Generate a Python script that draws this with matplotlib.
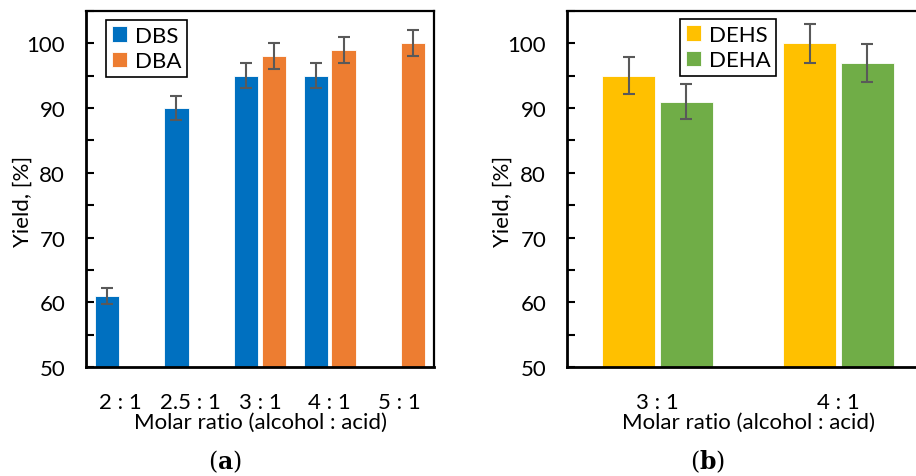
import numpy as np
import matplotlib
matplotlib.use("Agg")
import matplotlib.pyplot as plt
from matplotlib.ticker import MultipleLocator

# panel (a): dibutyl esters
ratios_a = ["2 : 1", "2.5 : 1", "3 : 1", "4 : 1", "5 : 1"]
dbs = [61, 90, 95, 95, np.nan]
dba = [np.nan, np.nan, 98, 99, 100]
dbs_err = [1.2, 1.8, 1.9, 1.9, np.nan]
dba_err = [np.nan, np.nan, 2.0, 2.0, 2.0]

# panel (b): di(2-ethylhexyl) esters
ratios_b = ["3 : 1", "4 : 1"]
dehs = [95, 100]
deha = [91, 97]
dehs_err = [2.9, 3.0]
deha_err = [2.7, 2.9]

plt.rcParams["font.family"] = ["Lato", "DejaVu Sans"]
plt.rcParams["font.size"] = 16

fig = plt.figure(figsize=(9.16, 4.77), dpi=100)
ax1 = fig.add_axes([86 / 916, 1 - 368 / 477, 348 / 916, 356 / 477])
ax2 = fig.add_axes([567 / 916, 1 - 368 / 477, 362 / 916, 356 / 477])


def draw_panel(ax, cats, s1, s2, e1, e2, names, colors, width, off):
    x = np.arange(len(cats))
    ekw = dict(ecolor="#595959", elinewidth=1.5, capsize=4.5, capthick=1.5)
    ax.bar(x - off, s1, width, color=colors[0], label=names[0],
           yerr=e1, error_kw=ekw, edgecolor="white", linewidth=0.6)
    ax.bar(x + off, s2, width, color=colors[1], label=names[1],
           yerr=e2, error_kw=ekw, edgecolor="white", linewidth=0.6)
    ax.set_xlim(-0.5, len(cats) - 0.5)
    ax.set_ylim(50, 105)
    ax.set_yticks([50, 60, 70, 80, 90, 100])
    ax.yaxis.set_minor_locator(MultipleLocator(5))
    ax.set_xticks(x)
    ax.set_xticklabels(cats)
    ax.tick_params(axis="y", which="both", direction="in", length=6,
                   width=1.5, pad=15)
    ax.tick_params(axis="x", length=0, pad=18)
    for s in ax.spines.values():
        s.set_linewidth(1.6)
    ax.spines["left"].set_linewidth(2)
    ax.spines["bottom"].set_linewidth(2)
    ax.set_xlabel("Molar ratio (alcohol : acid)", labelpad=0)
    ax.set_ylabel("Yield, [%]")
    leg = ax.legend(handlelength=0.7, handleheight=0.7, handletextpad=0.35,
                    borderpad=0.25, labelspacing=0.25, fancybox=False,
                    edgecolor="black", framealpha=1, borderaxespad=0)
    leg.get_frame().set_linewidth(1.2)
    return leg


leg1 = draw_panel(ax1, ratios_a, dbs, dba, dbs_err, dba_err, ["DBS", "DBA"],
                  ["#0070C0", "#ED7D31"], 0.35, 0.2)
leg1.set_bbox_to_anchor((20 / 348, 1 - 9 / 356), transform=ax1.transAxes)
leg1._loc = 2

leg2 = draw_panel(ax2, ratios_b, dehs, deha, dehs_err, deha_err,
                  ["DEHS", "DEHA"], ["#FFC000", "#70AD47"], 0.293, 0.16)
leg2.set_bbox_to_anchor((113 / 362, 1 - 8 / 356), transform=ax2.transAxes)
leg2._loc = 2

# y-axis titles sit a little below the plot-area centre
ax1.yaxis.set_label_coords(33 / 916, 1 - 201 / 477, transform=fig.transFigure)
ax2.yaxis.set_label_coords(513 / 916, 1 - 201 / 477, transform=fig.transFigure)

plt.rcParams["mathtext.fontset"] = "dejavuserif"
fig.text(225 / 916, 1 - 462 / 477, r"($\mathbf{a}$)", family="DejaVu Serif",
         fontsize=17, ha="center", va="center")
fig.text(708 / 916, 1 - 462 / 477, r"($\mathbf{b}$)", family="DejaVu Serif",
         fontsize=17, ha="center", va="center")

fig.savefig("out.png", dpi=100)
